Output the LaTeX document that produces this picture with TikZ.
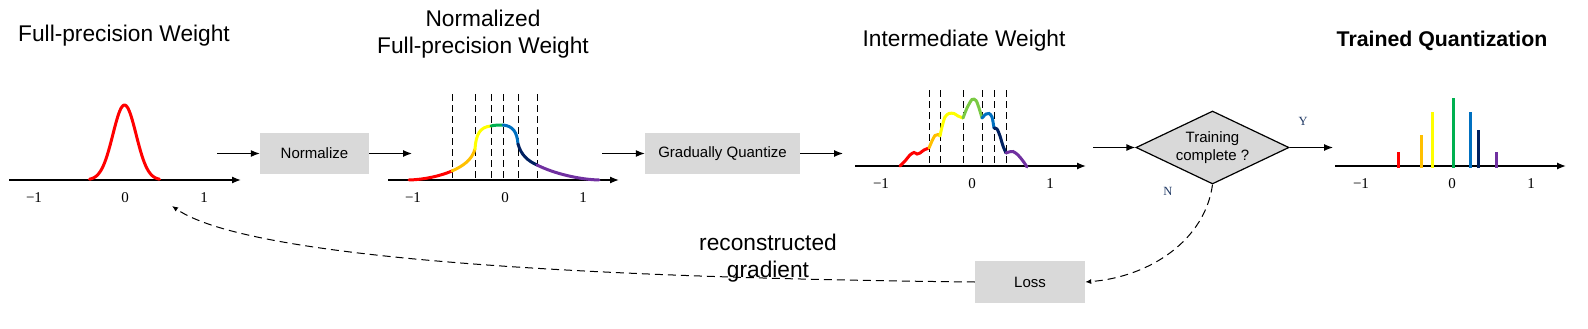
\documentclass[tikz,border=0pt]{standalone}
\usepackage{fontspec}
\setmainfont{Liberation Sans}
\newfontfamily\axfont{Liberation Serif}
\usetikzlibrary{arrows.meta,shapes.geometric}
\definecolor{qred}{HTML}{FF0000}
\definecolor{qorange}{HTML}{FFC000}
\definecolor{qyellow}{HTML}{FFFF00}
\definecolor{qgreen}{HTML}{00B050}
\definecolor{qgreenl}{HTML}{7AC943}
\definecolor{qblue}{HTML}{0070C0}
\definecolor{qnavy}{HTML}{002060}
\definecolor{qpurple}{HTML}{7030A0}
\definecolor{boxgray}{HTML}{D9D9D9}
\definecolor{ynlab}{HTML}{1F3864}
\begin{document}
\begin{tikzpicture}[x=1pt,y=-1pt,
  title/.style={font=\fontsize{22.7}{27}\selectfont, anchor=base, inner sep=0},
  procbox/.style={fill=boxgray, inner sep=0, font=\fontsize{15}{18}\selectfont},
  axisline/.style={line width=1.3pt, -{Latex[length=9pt,width=7pt]}},
  flow/.style={line width=1.2pt, -{Latex[length=9pt,width=7pt]}},
  fb/.style={line width=1pt, dash pattern=on 8pt off 5pt, -{Latex[length=6pt,width=5pt]}},
  qline/.style={dash pattern=on 7pt off 4pt, line width=1pt},
  curve/.style={line width=3pt, line cap=round},
  bar/.style={line width=3pt},
  ticklab/.style={font=\axfont\fontsize{15}{18}\selectfont, anchor=base, inner sep=0},
  yn/.style={font=\axfont\fontsize{12.5}{14}\selectfont, text=ynlab, inner sep=0}
]
\useasboundingbox (0,0) rectangle (1588,329);

% ---------- titles ----------
\node[title] (t1) at (124,42) {Full-precision Weight};
\node[title] (t2a) at (483,27) {Normalized};
\node[title] (t2b) at (483,54) {Full-precision Weight};
\node[title] (t3) at (964,47) {Intermediate Weight};
\node[title, font=\fontsize{21.3}{26}\selectfont\bfseries] (t4) at (1442,47) {Trained Quantization};

% ---------- panel 1 ----------
\draw[axisline] (9,180) -- (241,180);
\draw[curve, qred] plot[domain=-35:35, samples=70, smooth] ({124.5+\x},{180-75*exp(-(\x*\x)/270)});
\node[ticklab] (p1m) at (34,202) {−1};
\node[ticklab] (p1z) at (125,202) {0};
\node[ticklab] (p1o) at (204,202) {1};

% ---------- Normalize ----------
\node[procbox, minimum width=109pt, minimum height=41pt] (norm) at (314.5,153.5) {Normalize};
\coordinate (a1) at (217,153.5);
\coordinate (a2) at (412,153.5);
\draw[flow] (a1) -- (norm.west);
\draw[flow] (norm.east) -- (a2);

% ---------- panel 2 ----------
\foreach \xx in {452,475,491,503,518,537}
  \draw[qline] (\xx,94) -- (\xx,178);
\draw[axisline] (388,180) -- (619,180);
\draw[curve, qred] (409,180) .. controls (425,179.5) and (440,176) .. (452,171);
\draw[curve, qorange] (452,171) .. controls (463,166) and (472,160) .. (475,149);
\draw[curve, qyellow] (475,149) .. controls (476,134) and (480,127) .. (491,126);
\draw[curve, qgreen] (491,126) .. controls (495,125) and (499,125) .. (503,125);
\draw[curve, qblue] (503,125) .. controls (513,126) and (517,132) .. (518,144);
\draw[curve, qnavy] (518,144) .. controls (521,155) and (528,161) .. (537,165);
\draw[curve, qpurple] (537,165) .. controls (555,174) and (580,179.5) .. (599,180);
\node[ticklab] (p2m) at (413,202) {−1};
\node[ticklab] (p2z) at (505,202) {0};
\node[ticklab] (p2o) at (583,202) {1};

% ---------- Gradually Quantize ----------
\node[procbox, minimum width=155pt, minimum height=41pt] (gq) at (722.5,153.5) {Gradually Quantize};
\coordinate (b1) at (602,153.5);
\coordinate (b2) at (843,153.5);
\draw[flow] (b1) -- (gq.west);
\draw[flow] (gq.east) -- (b2);

% ---------- panel 3 ----------
\foreach \xx in {929,940,963,982,994,1006}
  \draw[qline] (\xx,90) -- (\xx,163);
\draw[axisline] (855,166) -- (1086,166);
\draw[curve, qred] plot[smooth] coordinates {(900,166) (905,161) (910,155) (914,152.5) (917,154) (920,153) (924,150) (929,148)};
\draw[curve, qorange] plot[smooth] coordinates {(929,148) (932,141) (935,135.5) (938,134.5) (940,136)};
\draw[curve, qyellow] plot[smooth] coordinates {(940,136) (942,127) (945,117) (949,113.5) (954,113.5) (958,116) (963,118)};
\draw[curve, qgreenl] plot[smooth] coordinates {(963,118) (967,108) (972,99.5) (976,100.5) (979,108) (982,118)};
\draw[curve, qblue] plot[smooth] coordinates {(982,118) (986,114) (989,113.5) (992,117) (994,128)};
\draw[curve, qnavy] plot[smooth] coordinates {(994,128) (997,129) (1000,136) (1003,146) (1006,153)};
\draw[curve, qpurple] plot[smooth] coordinates {(1006,153) (1009,152) (1013,151.5) (1018,155) (1023,161) (1027,167)};
\node[ticklab] (p3m) at (881,188) {−1};
\node[ticklab] (p3z) at (972,188) {0};
\node[ticklab] (p3o) at (1050,188) {1};

% ---------- decision ----------
\node[diamond, draw, line width=1.2pt, fill=boxgray, aspect=2.1, inner sep=0,
      minimum width=153pt, minimum height=73pt, align=center,
      font=\fontsize{15}{18}\selectfont] (tc) at (1212.5,147.5) {Training\\complete ?};
\coordinate (c1) at (1093,147.5);
\coordinate (c2) at (1333,147.5);
\draw[flow] (c1) -- (tc.west);
\draw[flow] (tc.east) -- (c2);
\node[yn] (ylab) at (1303,121) {Y};
\node[yn] (nlab) at (1168,191) {N};

% ---------- panel 4 ----------
\draw[axisline] (1335,166) -- (1566,166);
\draw[bar, qred]    (1398,168) -- (1398,152);
\draw[bar, qorange] (1421,168) -- (1421,135);
\draw[bar, qyellow] (1432,168) -- (1432,112);
\draw[bar, qgreen]  (1453,168) -- (1453,98);
\draw[bar, qblue]   (1470,168) -- (1470,112);
\draw[bar, qnavy]   (1478,168) -- (1478,130);
\draw[bar, qpurple] (1496,168) -- (1496,152);
\node[ticklab] (p4m) at (1361,188) {−1};
\node[ticklab] (p4z) at (1452,188) {0};
\node[ticklab] (p4o) at (1531,188) {1};

% ---------- feedback ----------
\node[procbox, minimum width=110pt, minimum height=42pt] (loss) at (1030,282) {Loss};
\draw[fb] (tc.south) .. controls (1205,240) and (1150,277) .. (loss.east);
\coordinate (fbend) at (172,206);
\draw[fb] (loss.west) .. controls (600,278) and (250,260) .. (fbend);
\node[title] (rg1) at (768,250) {reconstructed};
\node[title] (rg2) at (768,277) {gradient};
\end{tikzpicture}
\end{document}
